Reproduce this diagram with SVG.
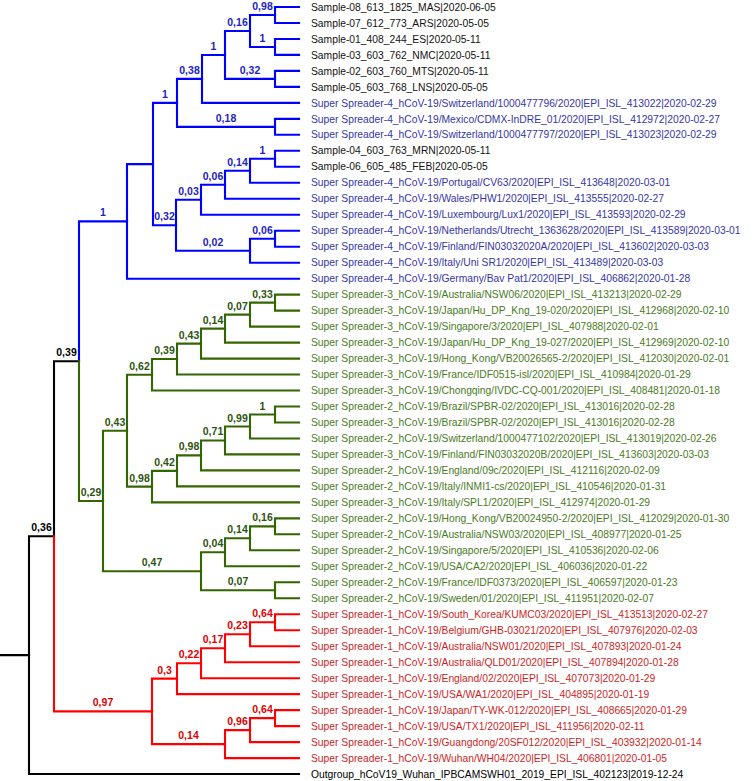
<svg xmlns="http://www.w3.org/2000/svg" width="755" height="781" viewBox="0 0 755 781">
<style>
.e{fill:none;stroke-width:2.1;stroke-linecap:square;stroke-linejoin:miter}
.b{stroke:#0000ff}.g{stroke:#336600}.r{stroke:#ff0000}.k{stroke:#000}
text.t{font-family:"Liberation Sans",Arial,sans-serif;font-size:10.3px}
.tb{fill:#3535a8}.ts{fill:#111}.tg{fill:#4a7a1e}.tr{fill:#cc1f1f}.tk{fill:#000}
text.l{font-family:"Liberation Sans",Arial,sans-serif;font-size:10.5px;font-weight:bold;text-anchor:middle}
.lb{fill:#2323c0}.lg{fill:#2e5410}.lr{fill:#dd0000}.lk{fill:#000}
</style>
<rect width="755" height="781" fill="#fff"/>
<g id="connectors">
<path class="e k" d="M0 655.15H29"/>
<path class="e k" d="M29 655.15V536.3H54"/>
<path class="e k" d="M29 655.15V774H299"/>
<path class="e k" d="M54 536.3V361.2H79"/>
<path class="e b" d="M79 361.2V221.4H127"/>
<path class="e b" d="M127 221.4V164.1H153"/>
<path class="e b" d="M127 221.4V278.7H299"/>
<path class="e b" d="M153 164.1V102.9H177"/>
<path class="e b" d="M153 164.1V225.25H176"/>
<path class="e b" d="M177 102.9V78.9H202"/>
<path class="e b" d="M177 102.9V126.9H275"/>
<path class="e b" d="M202 78.9V55H225"/>
<path class="e b" d="M202 78.9V102.9H299"/>
<path class="e b" d="M225 55V31H250"/>
<path class="e b" d="M225 55V78.9H275"/>
<path class="e b" d="M250 31V15H275"/>
<path class="e b" d="M250 31V47H275"/>
<path class="e b" d="M275 15V7H299"/>
<path class="e b" d="M275 15V23H299"/>
<path class="e b" d="M275 47V39H299"/>
<path class="e b" d="M275 47V54.9H299"/>
<path class="e b" d="M275 78.9V70.9H299"/>
<path class="e b" d="M275 78.9V86.9H299"/>
<path class="e b" d="M275 126.9V118.9H299"/>
<path class="e b" d="M275 126.9V134.8H299"/>
<path class="e b" d="M176 225.25V199.8H201"/>
<path class="e b" d="M176 225.25V250.7H250"/>
<path class="e b" d="M201 199.8V184.8H225"/>
<path class="e b" d="M201 199.8V214.7H299"/>
<path class="e b" d="M225 184.8V170.8H250"/>
<path class="e b" d="M225 184.8V198.8H299"/>
<path class="e b" d="M250 170.8V158.8H275"/>
<path class="e b" d="M250 170.8V182.8H299"/>
<path class="e b" d="M275 158.8V150.8H299"/>
<path class="e b" d="M275 158.8V166.8H299"/>
<path class="e b" d="M250 250.7V238.7H275"/>
<path class="e b" d="M250 250.7V262.7H299"/>
<path class="e b" d="M275 238.7V230.7H299"/>
<path class="e b" d="M275 238.7V246.7H299"/>
<path class="e g" d="M79 361.2V501H103"/>
<path class="e g" d="M103 501V430.7H127"/>
<path class="e g" d="M103 501V571.3H201"/>
<path class="e g" d="M127 430.7V374.8H152"/>
<path class="e g" d="M127 430.7V486.65H152"/>
<path class="e g" d="M152 374.8V359.05H177"/>
<path class="e g" d="M152 374.8V390.5H299"/>
<path class="e g" d="M177 359.05V343.6H201"/>
<path class="e g" d="M177 359.05V374.5H299"/>
<path class="e g" d="M201 343.6V328.6H225"/>
<path class="e g" d="M201 343.6V358.6H299"/>
<path class="e g" d="M225 328.6V314.6H250"/>
<path class="e g" d="M225 328.6V342.6H299"/>
<path class="e g" d="M250 314.6V302.6H275"/>
<path class="e g" d="M250 314.6V326.6H299"/>
<path class="e g" d="M275 302.6V294.6H299"/>
<path class="e g" d="M275 302.6V310.6H299"/>
<path class="e g" d="M152 486.65V470.9H177"/>
<path class="e g" d="M152 486.65V502.4H299"/>
<path class="e g" d="M177 470.9V455.4H201"/>
<path class="e g" d="M177 470.9V486.4H299"/>
<path class="e g" d="M201 455.4V440.45H225"/>
<path class="e g" d="M201 455.4V470.4H299"/>
<path class="e g" d="M225 440.45V426.5H250"/>
<path class="e g" d="M225 440.45V454.4H299"/>
<path class="e g" d="M250 426.5V414.5H275"/>
<path class="e g" d="M250 426.5V438.5H299"/>
<path class="e g" d="M275 414.5V406.5H299"/>
<path class="e g" d="M275 414.5V422.5H299"/>
<path class="e g" d="M201 571.3V552.3H225"/>
<path class="e g" d="M201 571.3V590.3H275"/>
<path class="e g" d="M225 552.3V538.3H250"/>
<path class="e g" d="M225 552.3V566.3H299"/>
<path class="e g" d="M250 538.3V526.35H275"/>
<path class="e g" d="M250 538.3V550.3H299"/>
<path class="e g" d="M275 526.35V518.4H299"/>
<path class="e g" d="M275 526.35V534.3H299"/>
<path class="e g" d="M275 590.3V582.3H299"/>
<path class="e g" d="M275 590.3V598.3H299"/>
<path class="e r" d="M54 536.3V711.4H152"/>
<path class="e r" d="M152 711.4V678.65H177"/>
<path class="e r" d="M152 711.4V744.1H225"/>
<path class="e r" d="M177 678.65V663.2H201"/>
<path class="e r" d="M177 678.65V694.1H299"/>
<path class="e r" d="M201 663.2V648.2H225"/>
<path class="e r" d="M201 663.2V678.2H299"/>
<path class="e r" d="M225 648.2V634.2H250"/>
<path class="e r" d="M225 648.2V662.2H299"/>
<path class="e r" d="M250 634.2V622.2H275"/>
<path class="e r" d="M250 634.2V646.2H299"/>
<path class="e r" d="M275 622.2V614.2H299"/>
<path class="e r" d="M275 622.2V630.2H299"/>
<path class="e r" d="M225 744.1V730.1H250"/>
<path class="e r" d="M225 744.1V758.1H299"/>
<path class="e r" d="M250 730.1V718.1H275"/>
<path class="e r" d="M250 730.1V742.1H299"/>
<path class="e r" d="M275 718.1V710.1H299"/>
<path class="e r" d="M275 718.1V726.1H299"/>
</g>
<g id="internal-nodes">
<g id="n-A"><text class="l lb" x="262.5" y="10">0,98</text></g>
<g id="n-B"><text class="l lb" x="262.5" y="42">1</text></g>
<g id="n-C"><text class="l lb" x="237.5" y="26">0,16</text></g>
<g id="n-D"><text class="l lb" x="250" y="73.9">0,32</text></g>
<g id="n-E"><text class="l lb" x="213.5" y="50">1</text></g>
<g id="n-F"><text class="l lb" x="189.5" y="73.9">0,38</text></g>
<g id="n-G"><text class="l lb" x="226" y="121.9">0,18</text></g>
<g id="n-H"><text class="l lb" x="165" y="97.9">1</text></g>
<g id="n-K"><text class="l lb" x="262.5" y="153.8">1</text></g>
<g id="n-L"><text class="l lb" x="237.5" y="165.8">0,14</text></g>
<g id="n-M"><text class="l lb" x="213" y="179.8">0,06</text></g>
<g id="n-N"><text class="l lb" x="188.5" y="194.8">0,03</text></g>
<g id="n-O"><text class="l lb" x="262.5" y="233.7">0,06</text></g>
<g id="n-P"><text class="l lb" x="213" y="245.7">0,02</text></g>
<g id="n-Q"><text class="l lb" x="164.5" y="220.2">0,32</text></g>
<g id="n-J"><text class="l lb" x="103" y="216.4">1</text></g>
<g id="n-Z"><text class="l lk" x="66.5" y="356.2">0,39</text></g>
<g id="n-Y"><text class="l lk" x="41.5" y="531.3">0,36</text></g>
<g id="n-W"><text class="l lg" x="91" y="496">0,29</text></g>
<g id="n-G7"><text class="l lg" x="115" y="425.7">0,43</text></g>
<g id="n-G6"><text class="l lg" x="139.5" y="369.8">0,62</text></g>
<g id="n-G5"><text class="l lg" x="164.5" y="354">0,39</text></g>
<g id="n-G4"><text class="l lg" x="189" y="338.6">0,43</text></g>
<g id="n-G3"><text class="l lg" x="213" y="323.6">0,14</text></g>
<g id="n-G2"><text class="l lg" x="237.5" y="309.6">0,07</text></g>
<g id="n-G1"><text class="l lg" x="262.5" y="297.6">0,33</text></g>
<g id="n-H6"><text class="l lg" x="139.5" y="481.6">0,98</text></g>
<g id="n-H5"><text class="l lg" x="164.5" y="465.9">0,42</text></g>
<g id="n-H4"><text class="l lg" x="189" y="450.4">0,98</text></g>
<g id="n-H3"><text class="l lg" x="213" y="435.4">0,71</text></g>
<g id="n-H2"><text class="l lg" x="237.5" y="421.5">0,99</text></g>
<g id="n-H1"><text class="l lg" x="262.5" y="409.5">1</text></g>
<g id="n-K1"><text class="l lg" x="152" y="566.3">0,47</text></g>
<g id="n-Kc"><text class="l lg" x="213" y="547.3">0,04</text></g>
<g id="n-Kb"><text class="l lg" x="237.5" y="533.3">0,14</text></g>
<g id="n-Ka"><text class="l lg" x="262.5" y="521.3">0,16</text></g>
<g id="n-Kd"><text class="l lg" x="238" y="585.3">0,07</text></g>
<g id="n-RR"><text class="l lr" x="103" y="706.4">0,97</text></g>
<g id="n-S5"><text class="l lr" x="164.5" y="673.6">0,3</text></g>
<g id="n-S4"><text class="l lr" x="189" y="658.2">0,22</text></g>
<g id="n-S3"><text class="l lr" x="213" y="643.2">0,17</text></g>
<g id="n-S2"><text class="l lr" x="237.5" y="629.2">0,23</text></g>
<g id="n-S1"><text class="l lr" x="262.5" y="617.2">0,64</text></g>
<g id="n-T3"><text class="l lr" x="188.5" y="739.1">0,14</text></g>
<g id="n-T2"><text class="l lr" x="237.5" y="725.1">0,96</text></g>
<g id="n-T1"><text class="l lr" x="262.5" y="713.1">0,64</text></g>
</g>
<g id="leaves">
<g id="leaf-00"><text class="t ts" x="311" y="10.6">Sample-08_613_1825_MAS|2020-06-05</text></g>
<g id="leaf-01"><text class="t ts" x="311" y="26.6">Sample-07_612_773_ARS|2020-05-05</text></g>
<g id="leaf-02"><text class="t ts" x="311" y="42.6">Sample-01_408_244_ES|2020-05-11</text></g>
<g id="leaf-03"><text class="t ts" x="311" y="58.5">Sample-03_603_762_NMC|2020-05-11</text></g>
<g id="leaf-04"><text class="t ts" x="311" y="74.5">Sample-02_603_760_MTS|2020-05-11</text></g>
<g id="leaf-05"><text class="t ts" x="311" y="90.5">Sample-05_603_768_LNS|2020-05-05</text></g>
<g id="leaf-06"><text class="t tb" x="311" y="106.5">Super Spreader-4_hCoV-19/Switzerland/1000477796/2020|EPI_ISL_413022|2020-02-29</text></g>
<g id="leaf-07"><text class="t tb" x="311" y="122.5">Super Spreader-4_hCoV-19/Mexico/CDMX-InDRE_01/2020|EPI_ISL_412972|2020-02-27</text></g>
<g id="leaf-08"><text class="t tb" x="311" y="138.4">Super Spreader-4_hCoV-19/Switzerland/1000477797/2020|EPI_ISL_413023|2020-02-29</text></g>
<g id="leaf-09"><text class="t ts" x="311" y="154.4">Sample-04_603_763_MRN|2020-05-11</text></g>
<g id="leaf-10"><text class="t ts" x="311" y="170.4">Sample-06_605_485_FEB|2020-05-05</text></g>
<g id="leaf-11"><text class="t tb" x="311" y="186.4">Super Spreader-4_hCoV-19/Portugal/CV63/2020|EPI_ISL_413648|2020-03-01</text></g>
<g id="leaf-12"><text class="t tb" x="311" y="202.4">Super Spreader-4_hCoV-19/Wales/PHW1/2020|EPI_ISL_413555|2020-02-27</text></g>
<g id="leaf-13"><text class="t tb" x="311" y="218.3">Super Spreader-4_hCoV-19/Luxembourg/Lux1/2020|EPI_ISL_413593|2020-02-29</text></g>
<g id="leaf-14"><text class="t tb" x="311" y="234.3">Super Spreader-4_hCoV-19/Netherlands/Utrecht_1363628/2020|EPI_ISL_413589|2020-03-01</text></g>
<g id="leaf-15"><text class="t tb" x="311" y="250.3">Super Spreader-4_hCoV-19/Finland/FIN03032020A/2020|EPI_ISL_413602|2020-03-03</text></g>
<g id="leaf-16"><text class="t tb" x="311" y="266.3">Super Spreader-4_hCoV-19/Italy/Uni SR1/2020|EPI_ISL_413489|2020-03-03</text></g>
<g id="leaf-17"><text class="t tb" x="311" y="282.3">Super Spreader-4_hCoV-19/Germany/Bav Pat1/2020|EPI_ISL_406862|2020-01-28</text></g>
<g id="leaf-18"><text class="t tg" x="311" y="298.2">Super Spreader-3_hCoV-19/Australia/NSW06/2020|EPI_ISL_413213|2020-02-29</text></g>
<g id="leaf-19"><text class="t tg" x="311" y="314.2">Super Spreader-3_hCoV-19/Japan/Hu_DP_Kng_19-020/2020|EPI_ISL_412968|2020-02-10</text></g>
<g id="leaf-20"><text class="t tg" x="311" y="330.2">Super Spreader-3_hCoV-19/Singapore/3/2020|EPI_ISL_407988|2020-02-01</text></g>
<g id="leaf-21"><text class="t tg" x="311" y="346.2">Super Spreader-3_hCoV-19/Japan/Hu_DP_Kng_19-027/2020|EPI_ISL_412969|2020-02-10</text></g>
<g id="leaf-22"><text class="t tg" x="311" y="362.2">Super Spreader-3_hCoV-19/Hong_Kong/VB20026565-2/2020|EPI_ISL_412030|2020-02-01</text></g>
<g id="leaf-23"><text class="t tg" x="311" y="378.1">Super Spreader-3_hCoV-19/France/IDF0515-isl/2020|EPI_ISL_410984|2020-01-29</text></g>
<g id="leaf-24"><text class="t tg" x="311" y="394.1">Super Spreader-3_hCoV-19/Chongqing/IVDC-CQ-001/2020|EPI_ISL_408481|2020-01-18</text></g>
<g id="leaf-25"><text class="t tg" x="311" y="410.1">Super Spreader-2_hCoV-19/Brazil/SPBR-02/2020|EPI_ISL_413016|2020-02-28</text></g>
<g id="leaf-26"><text class="t tg" x="311" y="426.1">Super Spreader-3_hCoV-19/Brazil/SPBR-02/2020|EPI_ISL_413016|2020-02-28</text></g>
<g id="leaf-27"><text class="t tg" x="311" y="442.1">Super Spreader-2_hCoV-19/Switzerland/1000477102/2020|EPI_ISL_413019|2020-02-26</text></g>
<g id="leaf-28"><text class="t tg" x="311" y="458">Super Spreader-3_hCoV-19/Finland/FIN03032020B/2020|EPI_ISL_413603|2020-03-03</text></g>
<g id="leaf-29"><text class="t tg" x="311" y="474">Super Spreader-2_hCoV-19/England/09c/2020|EPI_ISL_412116|2020-02-09</text></g>
<g id="leaf-30"><text class="t tg" x="311" y="490">Super Spreader-2_hCoV-19/Italy/INMI1-cs/2020|EPI_ISL_410546|2020-01-31</text></g>
<g id="leaf-31"><text class="t tg" x="311" y="506">Super Spreader-3_hCoV-19/Italy/SPL1/2020|EPI_ISL_412974|2020-01-29</text></g>
<g id="leaf-32"><text class="t tg" x="311" y="522">Super Spreader-2_hCoV-19/Hong_Kong/VB20024950-2/2020|EPI_ISL_412029|2020-01-30</text></g>
<g id="leaf-33"><text class="t tg" x="311" y="537.9">Super Spreader-2_hCoV-19/Australia/NSW03/2020|EPI_ISL_408977|2020-01-25</text></g>
<g id="leaf-34"><text class="t tg" x="311" y="553.9">Super Spreader-2_hCoV-19/Singapore/5/2020|EPI_ISL_410536|2020-02-06</text></g>
<g id="leaf-35"><text class="t tg" x="311" y="569.9">Super Spreader-2_hCoV-19/USA/CA2/2020|EPI_ISL_406036|2020-01-22</text></g>
<g id="leaf-36"><text class="t tg" x="311" y="585.9">Super Spreader-2_hCoV-19/France/IDF0373/2020|EPI_ISL_406597|2020-01-23</text></g>
<g id="leaf-37"><text class="t tg" x="311" y="601.9">Super Spreader-2_hCoV-19/Sweden/01/2020|EPI_ISL_411951|2020-02-07</text></g>
<g id="leaf-38"><text class="t tr" x="311" y="617.8">Super Spreader-1_hCoV-19/South_Korea/KUMC03/2020|EPI_ISL_413513|2020-02-27</text></g>
<g id="leaf-39"><text class="t tr" x="311" y="633.8">Super Spreader-1_hCoV-19/Belgium/GHB-03021/2020|EPI_ISL_407976|2020-02-03</text></g>
<g id="leaf-40"><text class="t tr" x="311" y="649.8">Super Spreader-1_hCoV-19/Australia/NSW01/2020|EPI_ISL_407893|2020-01-24</text></g>
<g id="leaf-41"><text class="t tr" x="311" y="665.8">Super Spreader-1_hCoV-19/Australia/QLD01/2020|EPI_ISL_407894|2020-01-28</text></g>
<g id="leaf-42"><text class="t tr" x="311" y="681.8">Super Spreader-1_hCoV-19/England/02/2020|EPI_ISL_407073|2020-01-29</text></g>
<g id="leaf-43"><text class="t tr" x="311" y="697.7">Super Spreader-1_hCoV-19/USA/WA1/2020|EPI_ISL_404895|2020-01-19</text></g>
<g id="leaf-44"><text class="t tr" x="311" y="713.7">Super Spreader-1_hCoV-19/Japan/TY-WK-012/2020|EPI_ISL_408665|2020-01-29</text></g>
<g id="leaf-45"><text class="t tr" x="311" y="729.7">Super Spreader-1_hCoV-19/USA/TX1/2020|EPI_ISL_411956|2020-02-11</text></g>
<g id="leaf-46"><text class="t tr" x="311" y="745.7">Super Spreader-1_hCoV-19/Guangdong/20SF012/2020|EPI_ISL_403932|2020-01-14</text></g>
<g id="leaf-47"><text class="t tr" x="311" y="761.7">Super Spreader-1_hCoV-19/Wuhan/WH04/2020|EPI_ISL_406801|2020-01-05</text></g>
<g id="leaf-48"><text class="t tk" x="311" y="777.6">Outgroup_hCoV19_Wuhan_IPBCAMSWH01_2019_EPI_ISL_402123|2019-12-24</text></g>
</g>
</svg>
